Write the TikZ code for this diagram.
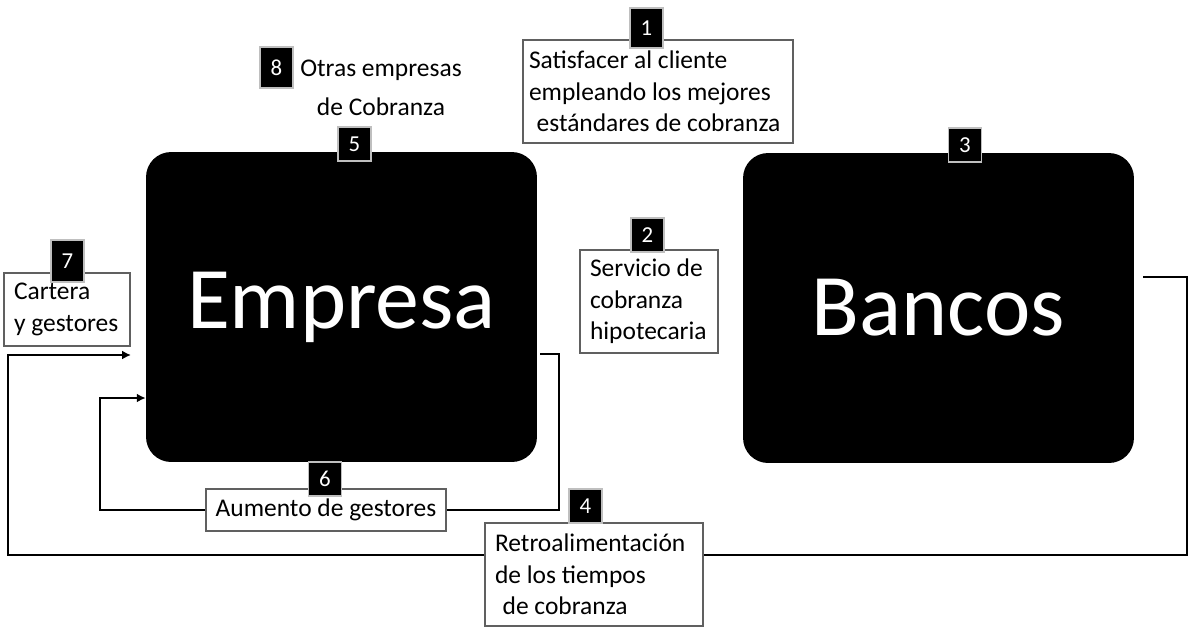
\documentclass[tikz,border=0pt]{standalone}
\usepackage{fontspec}
\setmainfont{Carlito}
\usetikzlibrary{arrows.meta}

\begin{document}
\begin{tikzpicture}[
    x=0.02cm, y=-0.02cm,
    font=\fontsize{14.5}{18}\selectfont,
    >={Latex[length=5pt,width=5pt]},
    bigbox/.style={fill=black, rounded corners=0.5cm, minimum width=7.82cm, minimum height=6.2cm, text=white, font=\fontsize{50}{60}\selectfont},
    numsq/.style={fill=black, draw=gray!50, line width=0.6pt, text=white, minimum width=0.66cm, minimum height=0.68cm, inner sep=0pt, font=\fontsize{13}{14}\selectfont},
    txtbox/.style={draw=gray!75!black, line width=1pt, fill=white, align=flush left, inner xsep=0.2cm, inner ysep=2pt},
    link/.style={line width=1.6pt, draw=black}
]
\useasboundingbox (0,0) rectangle (1200,637);

% main blocks
\node[bigbox] (empresa) at (341.5,307) {Empresa};
\node[bigbox] (bancos) at (938.5,308) {Bancos};

% labelled boxes
\node[txtbox, inner xsep=0.12cm, text width=5.16cm, minimum height=2.06cm] (objetivo) at (658,91.5) {Satisfacer al cliente\\empleando los mejores\\\hspace{0.3em}estándares de cobranza};
\node[txtbox, text width=2.36cm, minimum height=2.06cm] (servicio) at (649,301.5) {Servicio de\\cobranza\\hipotecaria};
\node[txtbox, text width=2.12cm, minimum height=1.46cm] (cartera) at (67,309.5) {Cartera\\y gestores};
\node[txtbox, minimum width=4.68cm, minimum height=0.84cm] (aumento) at (326,510) {Aumento de gestores};
\node[txtbox, text width=3.96cm, minimum height=2.06cm] (retro) at (594,574.5) {Retroalimentación\\de los tiempos\\\hspace{0.3em}de cobranza};
\node[align=center, font=\fontsize{14.5}{22.5}\selectfont] (otras) at (381,88) {Otras empresas\\de Cobranza};

% numbers
\node[numsq, minimum height=0.8cm] (n1) at (646.5,28) {1};
\node[numsq] (n2) at (647.5,235) {2};
\node[numsq] (n3) at (965,145) {3};
\node[numsq] (n4) at (585.5,506) {4};
\node[numsq] (n5) at (354.5,144) {5};
\node[numsq] (n6) at (325,479) {6};
\node[numsq, minimum height=0.84cm] (n7) at (67.5,261) {7};
\node[numsq, minimum height=0.82cm] (n8) at (276.5,67.5) {8};

% loops
\coordinate (eout) at (540,354);
\coordinate (elvl) at (0,398);
\coordinate (bout) at (1143,277);
\coordinate (rlvl) at (0,555);
\coordinate (cartin) at (131,355);

\draw[link] (eout) -| (559,510) -- (aumento.east);
\draw[link, ->] (aumento.west) -| (100,398) -- (empresa.west |- elvl);
\draw[link] (bout) -| (1187,555) -- (retro.east |- rlvl);
\draw[link, ->] (retro.west |- rlvl) -| (8,355) -- (cartin);
\end{tikzpicture}
\end{document}
